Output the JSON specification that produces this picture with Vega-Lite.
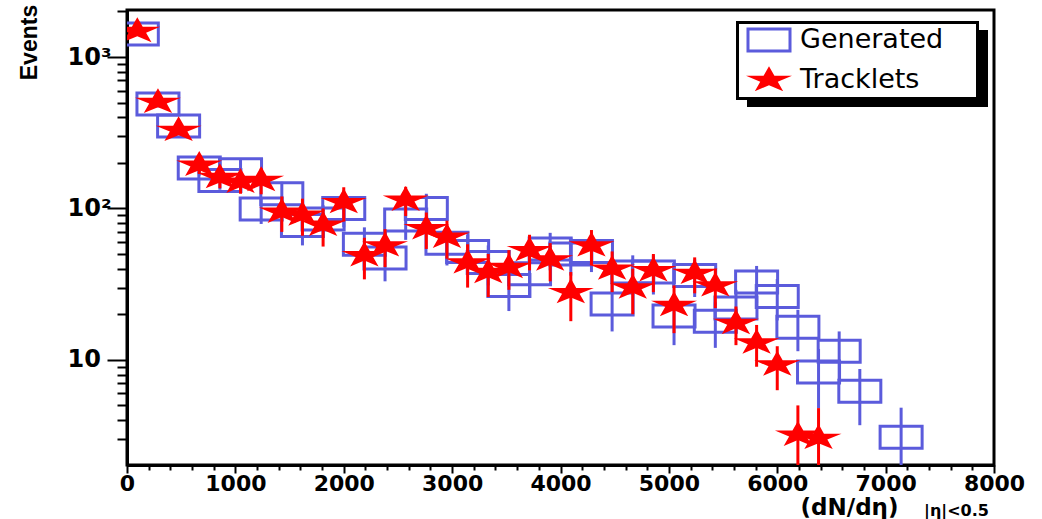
{
  "$schema": "https://vega.github.io/schema/vega-lite/v6.json",
  "width": 867,
  "height": 455,
  "autosize": {"type": "none"},
  "padding": {"left": 127, "top": 10, "right": 48, "bottom": 54},
  "background": "white",
  "config": {"view": {"stroke": "black", "strokeWidth": 3}, "font": "DejaVu Sans"},
  "datasets": {
    "generated": [
      {"dNdeta": 95.2, "events": 1420, "err": 40},
      {"dNdeta": 285.7, "events": 490, "err": 25},
      {"dNdeta": 476.2, "events": 351, "err": 20},
      {"dNdeta": 666.7, "events": 185, "err": 20},
      {"dNdeta": 857.1, "events": 153, "err": 20},
      {"dNdeta": 1047.6, "events": 180, "err": 30},
      {"dNdeta": 1238.1, "events": 99, "err": 20},
      {"dNdeta": 1428.6, "events": 125, "err": 25},
      {"dNdeta": 1619.0, "events": 77, "err": 20},
      {"dNdeta": 1809.5, "events": 85, "err": 20},
      {"dNdeta": 2000.0, "events": 100, "err": 25},
      {"dNdeta": 2190.5, "events": 58, "err": 17},
      {"dNdeta": 2381.0, "events": 47, "err": 14},
      {"dNdeta": 2571.4, "events": 84, "err": 22},
      {"dNdeta": 2761.9, "events": 100, "err": 25},
      {"dNdeta": 2952.4, "events": 59, "err": 17},
      {"dNdeta": 3142.9, "events": 52, "err": 15},
      {"dNdeta": 3333.3, "events": 44, "err": 13},
      {"dNdeta": 3523.8, "events": 31, "err": 10},
      {"dNdeta": 3714.3, "events": 37, "err": 11},
      {"dNdeta": 3904.8, "events": 54, "err": 15},
      {"dNdeta": 4095.2, "events": 50, "err": 14},
      {"dNdeta": 4285.7, "events": 52, "err": 14},
      {"dNdeta": 4476.2, "events": 23.4, "err": 8},
      {"dNdeta": 4666.7, "events": 38, "err": 11},
      {"dNdeta": 4857.1, "events": 38, "err": 11},
      {"dNdeta": 5047.6, "events": 19.5, "err": 7},
      {"dNdeta": 5238.1, "events": 36, "err": 10},
      {"dNdeta": 5428.6, "events": 18, "err": 6},
      {"dNdeta": 5619.0, "events": 22, "err": 7},
      {"dNdeta": 5809.5, "events": 32.7, "err": 9},
      {"dNdeta": 6000.0, "events": 26.2, "err": 8},
      {"dNdeta": 6190.5, "events": 16.4, "err": 5},
      {"dNdeta": 6381.0, "events": 8.3, "err": 3.5},
      {"dNdeta": 6571.4, "events": 11.4, "err": 4},
      {"dNdeta": 6761.9, "events": 6.2, "err": 2.5},
      {"dNdeta": 7142.9, "events": 3.08, "err": 1.75}
    ],
    "tracklets": [
      {"dNdeta": 95.2, "events": 1485, "err": 40},
      {"dNdeta": 285.7, "events": 505, "err": 30},
      {"dNdeta": 476.2, "events": 330, "err": 25},
      {"dNdeta": 666.7, "events": 194, "err": 25},
      {"dNdeta": 857.1, "events": 161, "err": 25},
      {"dNdeta": 1047.6, "events": 150, "err": 25},
      {"dNdeta": 1238.1, "events": 154, "err": 30},
      {"dNdeta": 1428.6, "events": 95, "err": 25},
      {"dNdeta": 1619.0, "events": 91, "err": 25},
      {"dNdeta": 1809.5, "events": 78, "err": 22},
      {"dNdeta": 2000.0, "events": 110, "err": 28},
      {"dNdeta": 2190.5, "events": 49, "err": 15},
      {"dNdeta": 2381.0, "events": 57, "err": 16},
      {"dNdeta": 2571.4, "events": 114, "err": 25},
      {"dNdeta": 2761.9, "events": 74, "err": 20},
      {"dNdeta": 2952.4, "events": 65, "err": 18},
      {"dNdeta": 3142.9, "events": 44, "err": 14},
      {"dNdeta": 3333.3, "events": 38, "err": 12},
      {"dNdeta": 3523.8, "events": 41, "err": 12},
      {"dNdeta": 3714.3, "events": 53, "err": 14},
      {"dNdeta": 3904.8, "events": 46, "err": 13},
      {"dNdeta": 4095.2, "events": 28, "err": 10},
      {"dNdeta": 4285.7, "events": 57, "err": 15},
      {"dNdeta": 4476.2, "events": 40, "err": 12},
      {"dNdeta": 4666.7, "events": 30, "err": 10},
      {"dNdeta": 4857.1, "events": 39, "err": 11},
      {"dNdeta": 5047.6, "events": 23, "err": 8},
      {"dNdeta": 5238.1, "events": 37.5, "err": 10},
      {"dNdeta": 5428.6, "events": 31, "err": 9},
      {"dNdeta": 5619.0, "events": 17.5, "err": 5},
      {"dNdeta": 5809.5, "events": 13, "err": 4},
      {"dNdeta": 6000.0, "events": 9.3, "err": 3},
      {"dNdeta": 6190.5, "events": 3.2, "err": 1.8},
      {"dNdeta": 6381.0, "events": 3.05, "err": 1.75}
    ]
  },
  "resolve": {
    "axis": {"x": "independent", "y": "independent"},
    "scale": {"shape": "independent"},
    "legend": {"shape": "independent"}
  },
  "layer": [
    {
      "data": {"name": "generated"},
      "mark": {"type": "point", "filled": true, "color": "black", "opacity": 0},
      "encoding": {
        "x": {"field": "dNdeta", "type": "quantitative", "axis": null},
        "y": {"field": "events", "type": "quantitative", "axis": null},
        "strokeDash": {
          "datum": "frame",
          "scale": {"domain": ["frame"], "range": [[1, 0]]},
          "legend": {
            "orient": "none", "legendX": 600, "legendY": 2, "title": null,
            "padding": 0, "symbolOffset": 0,
            "symbolType": "M-0.1,-0.1H24.2V7.8H-0.1Z M0.2,0.2V7.5H23.9V0.2Z M24.2,0.8H25.1V8.5H1V7.8H24.2Z",
            "symbolSize": 400, "symbolOpacity": 1, "symbolFillColor": "black", "symbolStrokeWidth": 0,
            "labelExpr": "''", "labelFontSize": 10, "labelOffset": 0
          }
        }
      }
    },
    {
      "data": {"name": "generated"},
      "mark": {"type": "errorbar", "ticks": false, "rule": {"strokeWidth": 3, "color": "#5b5bdc", "clip": true}},
      "encoding": {
        "x": {
          "field": "dNdeta", "type": "quantitative",
          "scale": {"domain": [0, 8000], "nice": false, "zero": false},
          "axis": {
            "orient": "bottom",
            "values": [0, 1000, 2000, 3000, 4000, 5000, 6000, 7000, 8000],
            "format": "d", "domain": false, "grid": false, "ticks": false, "tickSize": 0,
            "labelFont": "DejaVu Sans", "labelFontWeight": "bold", "labelFontSize": 22, "labelColor": "black",
            "labelPadding": 8, "labelBaseline": "top", "labelFlush": false, "labelOverlap": false,
            "title": "(dN/dη)", "titleFont": "DejaVu Sans", "titleFontWeight": "bold", "titleFontSize": 23, "titleColor": "black",
            "titleX": 722, "titleY": 42, "titleAlign": "center", "titleBaseline": "middle"
          }
        },
        "y": {
          "field": "events", "type": "quantitative",
          "scale": {"type": "log", "domain": [2.02, 2045], "nice": false},
          "axis": {
            "orient": "left",
            "values": [10, 100, 1000],
            "labelExpr": "datum.value == 1000 ? '10³' : datum.value == 100 ? '10²' : '10'",
            "domain": false, "grid": false, "ticks": false, "tickSize": 0,
            "labelFont": "DejaVu Sans", "labelFontWeight": "bold", "labelFontSize": 24, "labelColor": "black",
            "labelAlign": "left", "labelPadding": 60, "labelBaseline": "middle",
            "title": "Events", "titleFont": "Liberation Sans", "titleFontWeight": "bold", "titleFontSize": 23, "titleColor": "black",
            "titleAngle": -90, "titleX": -98, "titleY": 32, "titleAlign": "center", "titleBaseline": "middle"
          }
        },
        "yError": {"field": "err"}
      }
    },
    {
      "data": {"name": "generated"},
      "mark": {"type": "point", "filled": false, "stroke": "#5b5bdc", "strokeWidth": 3, "size": 729, "opacity": 1, "clip": true},
      "encoding": {
        "x": {
          "field": "dNdeta", "type": "quantitative",
          "axis": {
            "orient": "bottom",
            "values": [0, 1000, 2000, 3000, 4000, 5000, 6000, 7000, 8000],
            "labels": false, "domain": true, "domainColor": "black", "domainWidth": 3, "grid": false, "ticks": true,
            "tickSize": 8, "tickWidth": 2, "tickColor": "black", "title": null
          }
        },
        "y": {
          "field": "events", "type": "quantitative",
          "axis": {
            "orient": "left",
            "values": [10, 100, 1000],
            "labels": false, "domain": true, "domainColor": "black", "domainWidth": 3, "grid": false, "ticks": true,
            "tickSize": 20, "tickWidth": 2, "tickColor": "black", "title": null
          }
        },
        "shape": {
          "datum": "Generated",
          "scale": {"domain": ["Generated"], "range": ["M-1.556,-0.815H1.556V0.815H-1.556Z"]},
          "legend": {
            "orient": "none", "legendX": 627, "legendY": 15, "title": null,
            "padding": 0, "symbolOffset": 0,
            "symbolSize": 729, "symbolStrokeWidth": 3, "labelOffset": 16,
            "labelFont": "DejaVu Sans", "labelFontSize": 27, "labelColor": "black", "labelLimit": 0
          }
        }
      }
    },
    {
      "data": {"name": "tracklets"},
      "mark": {"type": "errorbar", "ticks": false, "rule": {"strokeWidth": 3, "color": "#ff0000", "clip": true}},
      "encoding": {
        "x": {"field": "dNdeta", "type": "quantitative", "axis": null},
        "y": {"field": "events", "type": "quantitative", "axis": null},
        "yError": {"field": "err"}
      }
    },
    {
      "data": {"name": "tracklets"},
      "mark": {"type": "point", "filled": true, "color": "#ff0000", "size": 729, "opacity": 1, "clip": true},
      "encoding": {
        "x": {
          "field": "dNdeta", "type": "quantitative",
          "axis": {
            "orient": "bottom",
            "values": [200, 400, 600, 800, 1200, 1400, 1600, 1800, 2200, 2400, 2600, 2800, 3200, 3400, 3600, 3800, 4200, 4400, 4600, 4800, 5200, 5400, 5600, 5800, 6200, 6400, 6600, 6800, 7200, 7400, 7600, 7800],
            "labels": false, "domain": true, "domainColor": "black", "domainWidth": 3, "grid": false, "ticks": true,
            "tickSize": 5, "tickWidth": 2, "tickColor": "black",
            "title": "|η|<0.5", "titleFont": "DejaVu Sans", "titleFontWeight": "bold", "titleFontSize": 16, "titleColor": "black",
            "titleX": 829, "titleY": 45, "titleAlign": "center", "titleBaseline": "middle"
          }
        },
        "y": {
          "field": "events", "type": "quantitative",
          "axis": {
            "orient": "left",
            "values": [3, 4, 5, 6, 7, 8, 9, 20, 30, 40, 50, 60, 70, 80, 90, 200, 300, 400, 500, 600, 700, 800, 900, 2000],
            "labels": false, "domain": true, "domainColor": "black", "domainWidth": 3, "grid": false, "ticks": true,
            "tickSize": 10, "tickWidth": 2, "tickColor": "black",
            "title": null
          }
        },
        "shape": {
          "datum": "Tracklets",
          "scale": {"domain": ["Tracklets"], "range": ["M0,-1.022L0.402,-0.315L1.702,-0.315L0.649,0.121L1.051,0.826L0,0.39L-1.051,0.826L-0.649,0.121L-1.702,-0.315L-0.402,-0.315Z"]},
          "legend": {
            "orient": "none", "legendX": 627, "legendY": 55, "title": null,
            "padding": 0, "symbolOffset": 0,
            "symbolSize": 729, "symbolStrokeWidth": 3, "labelOffset": 16,
            "labelFont": "DejaVu Sans", "labelFontSize": 27, "labelColor": "black", "labelLimit": 0
          }
        }
      }
    }
  ]
}
